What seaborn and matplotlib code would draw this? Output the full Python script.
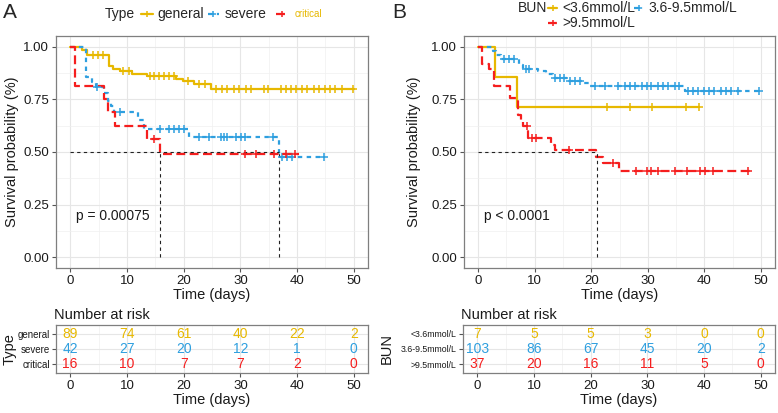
import numpy as np
import matplotlib
matplotlib.use("Agg")
import matplotlib.pyplot as plt
from matplotlib.lines import Line2D
import seaborn as sns

# ---- panel A: Type ----
a_groups = ["general", "severe", "critical"]
a_general_t = [0, 2.05, 3.0, 6.8, 7.6, 8.7, 10.9, 13.6, 18.6, 19.8, 21.9, 24.8, 50]
a_general_s = [1.0, 0.984, 0.961, 0.909, 0.894, 0.882, 0.871, 0.859, 0.846, 0.835, 0.822, 0.800, 0.800]
a_general_cens = [4.0, 4.9, 5.7, 9.3, 10.3, 14.0, 14.8, 15.7, 16.6, 17.5, 18.3, 20.7, 22.7, 23.7,
                  25.7, 26.7, 27.7, 28.9, 29.8, 31.0, 31.8, 34.2, 34.8, 37.1, 38.0, 38.9, 39.8,
                  40.9, 41.8, 43.0, 43.9, 45.0, 45.8, 46.7, 47.9, 49.9]
a_severe_t = [0, 2.8, 3.8, 4.6, 5.9, 6.6, 7.2, 7.8, 12.0, 13.0, 21.0, 36.8, 44.8]
a_severe_s = [1.0, 0.857, 0.833, 0.810, 0.780, 0.741, 0.717, 0.689, 0.654, 0.610, 0.573, 0.478, 0.478]
a_severe_cens = [4.8, 8.8, 15.9, 17.5, 18.3, 19.2, 20.1, 22.7, 24.5, 26.5, 27.2, 27.7, 29.2,
                 30.1, 30.9, 35.8, 37.4, 38.2, 39.1, 44.7]
a_critical_t = [0, 0.9, 5.9, 6.7, 7.9, 13.6, 15.9, 40.3]
a_critical_s = [1.0, 0.8125, 0.75, 0.6875, 0.625, 0.5625, 0.492, 0.492]
a_critical_cens = [14.8, 30.8, 32.8, 36.0, 38.0, 39.7]
a_risk = [[89, 74, 61, 40, 22, 2], [42, 27, 20, 12, 1, 0], [16, 10, 7, 7, 2, 0]]
a_medians = [15.9, 36.8]
a_pval = "p = 0.00075"

# ---- panel B: BUN ----
b_groups = ["<3.6mmol/L", "3.6-9.5mmol/L", ">9.5mmol/L"]
b_low_t = [0, 2.9, 6.9, 39.0]
b_low_s = [1.0, 0.857, 0.714, 0.714]
b_low_cens = [22.8, 26.8, 30.8, 36.7, 39.0]
b_mid_t = [0, 2.6, 3.2, 4.0, 7.2, 8.0, 10.5, 12.0, 13.2, 15.7, 18.6, 19.7, 36.6, 50]
b_mid_s = [1.0, 0.981, 0.961, 0.942, 0.913, 0.893, 0.883, 0.870, 0.851, 0.839, 0.827, 0.814, 0.787, 0.787]
b_mid_cens = [4.5, 5.4, 6.3, 8.5, 9.0, 13.6, 14.4, 15.1, 16.2, 17.1, 18.0, 20.7, 22.4, 24.8, 26.0,
              26.8, 27.7, 28.9, 29.8, 30.6, 31.8, 32.7, 33.6, 34.8, 35.6, 37.1, 38.0, 38.9,
              39.9, 40.9, 41.8, 42.9, 43.8, 44.7, 45.9, 49.7]
b_high_t = [0, 0.7, 1.9, 2.8, 5.7, 7.0, 7.6, 8.0, 8.8, 12.9, 13.6, 20.8, 22.1, 24.9, 48.5]
b_high_s = [1.0, 0.919, 0.892, 0.811, 0.757, 0.676, 0.649, 0.622, 0.568, 0.535, 0.508, 0.477,
            0.446, 0.409, 0.409]
b_high_cens = [8.6, 9.6, 10.2, 16.0, 23.9, 28.0, 29.8, 30.5, 31.8, 34.8, 36.9, 39.2, 40.1, 41.6, 47.7]
b_risk = [[7, 5, 5, 3, 0, 0], [103, 86, 67, 45, 20, 2], [37, 20, 16, 11, 5, 0]]
b_medians = [21.0]
b_pval = "p < 0.0001"

risk_times = [0, 10, 20, 30, 40, 50]
colors = ["#E7B800", "#2E9FDF", "#F51E1E"]
styles = ["-", (0, (2, 2)), (0, (4, 2))]

sns.set_theme(style="whitegrid")
plt.rcParams["font.family"] = ["Liberation Sans", "DejaVu Sans"]

W, H = 778, 413
fig = plt.figure(figsize=(W / 100, H / 100), dpi=100)


def box(l, t, r, b):
    return [l / W, 1 - b / H, (r - l) / W, (b - t) / H]


def step_at(t, s, x):
    idx = np.searchsorted(t, x, side="right") - 1
    return np.asarray(s)[idx]


def style_ax(ax):
    for sp in ax.spines.values():
        sp.set_color("#7f7f7f")
        sp.set_linewidth(0.9)
    ax.grid(True, which="major", color="#e6e6e6", lw=0.8)
    ax.grid(True, which="minor", color="#f0f0f0", lw=0.5)
    ax.tick_params(axis="both", which="major", length=3, width=0.8, color="#555555",
                   labelsize=9.5, labelcolor="#1a1a1a", pad=2, bottom=True, left=True)
    ax.tick_params(which="minor", length=0)


def km_panel(ax, curves, medians, pval, label_x):
    for (t, s, cens), c, ls in zip(curves, colors, styles):
        sns.lineplot(x=t, y=s, ax=ax, color=c, lw=1.6, linestyle=ls,
                     drawstyle="steps-post", estimator=None, sort=False)
        sns.scatterplot(x=cens, y=step_at(t, s, cens), ax=ax, marker="+", s=30,
                        color=c, linewidth=1.1, zorder=3)
    ax.plot([0, max(medians)], [0.5, 0.5], color="#222222", lw=0.8, ls=(0, (3, 3)))
    for m in medians:
        ax.plot([m, m], [0, 0.5], color="#222222", lw=0.8, ls=(0, (3, 3)))
    ax.text(1.0, 0.197, pval, fontsize=10, va="center", ha="left", color="#1a1a1a")
    ax.set_xlim(-2.5, 52.5)
    ax.set_ylim(-0.05, 1.05)
    ax.set_xticks(risk_times)
    ax.set_xticks([5, 15, 25, 35, 45], minor=True)
    ax.set_yticks([0, 0.25, 0.5, 0.75, 1.0])
    ax.set_yticklabels(["0.00", "0.25", "0.50", "0.75", "1.00"])
    ax.set_yticks([0.125, 0.375, 0.625, 0.875], minor=True)
    ax.set_xlabel("Time (days)", fontsize=10.5, labelpad=1, color="#1a1a1a")
    ax.set_ylabel("Survival probability (%)", fontsize=10.5, color="#1a1a1a")
    ax.yaxis.set_label_coords(label_x, 0.5)
    style_ax(ax)


def risk_panel(ax, risk, groups, title, lab_size, label_x):
    for i, (row, c) in enumerate(zip(risk, colors)):
        y = 3 - i
        for x, n in zip(risk_times, row):
            ax.text(x, y, str(n), color=c, fontsize=10, ha="center", va="center")
    ax.set_xlim(-2.5, 52.5)
    ax.set_ylim(0.45, 3.55)
    ax.set_xticks(risk_times)
    ax.set_xticks([5, 15, 25, 35, 45], minor=True)
    ax.set_yticks([3, 2, 1])
    ax.set_yticklabels(groups)
    for lab, c in zip(ax.get_yticklabels(), colors):
        lab.set_color(c)
    ax.set_xlabel("Time (days)", fontsize=10.5, labelpad=1, color="#1a1a1a")
    ax.set_ylabel(title, fontsize=10.5, color="#1a1a1a")
    ax.yaxis.set_label_coords(label_x, 0.5)
    style_ax(ax)
    ax.tick_params(axis="y", labelsize=lab_size, pad=1.5)
    ax.set_title("Number at risk", loc="left", fontsize=10.5, pad=4, x=-0.005, color="#1a1a1a")


axA = fig.add_axes(box(56, 36, 368, 268))
km_panel(axA, [(a_general_t, a_general_s, a_general_cens),
               (a_severe_t, a_severe_s, a_severe_cens),
               (a_critical_t, a_critical_s, a_critical_cens)], a_medians, a_pval, (19 - 56) / 312)
tabA = fig.add_axes(box(56, 325, 368, 373))
risk_panel(tabA, a_risk, a_groups, "Type", 7, (17 - 56) / 312)

axB = fig.add_axes(box(464, 36, 775, 268))
km_panel(axB, [(b_low_t, b_low_s, b_low_cens),
               (b_mid_t, b_mid_s, b_mid_cens),
               (b_high_t, b_high_s, b_high_cens)], b_medians, b_pval, (421 - 464) / 311)
tabB = fig.add_axes(box(463, 325, 775, 373))
risk_panel(tabB, b_risk, b_groups, "BUN", 6.3, (394 - 463) / 312)


def px(x, y):
    return x / W, 1 - y / H


def legend_key(x0, x1, y, c, ls):
    xa, ya = px(x0, y)
    xb, _ = px(x1, y)
    fig.add_artist(Line2D([xa, xb], [ya, ya], color=c, lw=1.6, linestyle=ls, transform=fig.transFigure))
    fig.add_artist(Line2D([(xa + xb) / 2], [ya], color=c, marker="+", markersize=5, mew=1.1,
                          transform=fig.transFigure))


# legend A
fig.text(*px(105, 14), "Type", fontsize=10, va="center", ha="left")
legend_key(141, 153, 14, colors[0], styles[0])
fig.text(*px(157, 14), "general", fontsize=10, va="center", ha="left")
legend_key(208, 219, 14, colors[1], styles[1])
fig.text(*px(225, 14), "severe", fontsize=10, va="center", ha="left")
legend_key(276, 288, 14, colors[2], styles[2])
fig.text(*px(295, 14), "critical", fontsize=7, va="center", ha="left", color=colors[0])

# legend B
fig.text(*px(518, 8), "BUN", fontsize=10, va="center", ha="left")
legend_key(548, 557, 8, colors[0], styles[0])
fig.text(*px(562, 8), b_groups[0], fontsize=10, va="center", ha="left")
legend_key(634, 643, 8, colors[1], styles[1])
fig.text(*px(648, 8), b_groups[1], fontsize=10, va="center", ha="left")
legend_key(548, 557, 23, colors[2], styles[2])
fig.text(*px(562, 23), b_groups[2], fontsize=10, va="center", ha="left")

fig.text(*px(3, 13), "A", fontsize=15, va="center", ha="left")
fig.text(*px(392, 12), "B", fontsize=15, va="center", ha="left")

fig.savefig("out.png", dpi=100)
